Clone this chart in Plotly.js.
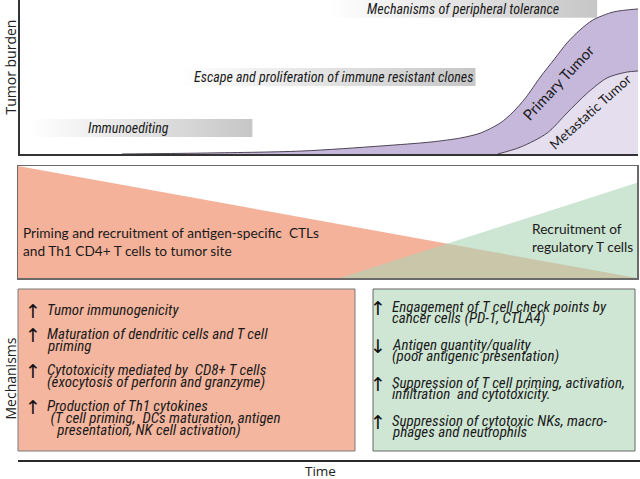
<!DOCTYPE html>
<html>
<head>
<meta charset="utf-8">
<script src="https://cdn.plot.ly/plotly-3.0.1.min.js"></script>
<style>html,body{margin:0;padding:0;background:#fff;}#chart{width:640px;height:479px;}</style>
</head>
<body>
<div id="chart"></div>
<script>
// ---------- data ----------
const primaryTime   = [16.5, 29.4, 45.5, 58.4, 66.5, 71.3, 74.5, 77.7, 79.8, 81.8, 84.2, 86.6, 88.5, 90.6, 92.7, 96, 100];
const primaryBurden = [0, 0.6, 1.9, 5.2, 7.8, 10.4, 13.6, 20.1, 27.3, 36.4, 50, 62.3, 72.1, 80.5, 87, 92.2, 94.2];
const metaTime      = [77.3, 81, 85.3, 88.5, 91.8, 95, 98.2, 100];
const metaBurden    = [0, 4.5, 13.6, 26.6, 39.6, 49.4, 53.2, 53.9];

const phaseLabels = ['Immunoediting', 'Escape and proliferation of immune resistant clones', 'Mechanisms of peripheral tolerance'];
const phaseStart  = [1.6, 25.8, 50.0];
const phaseEnd    = [37.6, 73.7, 93.4];
const phaseLevel  = [16.9, 50.0, 94.3];

const effectorTime  = [0, 100];
const effectorLevel = [1, 0];
const tregTime      = [52, 100];
const tregLevel     = [0, 0.85];
const effectorText  = 'Priming and recruitment of antigen-specific  CTLs<br>and Th1 CD4+ T cells to tumor site';
const tregText      = 'Recruitment of<br>regulatory T cells';

const leftArrows = ['↑', '↑', '↑', '↑'];
const leftLines  = [
  ['Tumor immunogenicity'],
  ['Maturation of dendritic cells and T cell', 'priming'],
  ['Cytotoxicity mediated by  CD8+ T cells', '(exocytosis of perforin and granzyme)'],
  ['Production of Th1 cytokines', '\u00A0(T cell priming,  DCs maturation, antigen', '\u00A0\u00A0\u00A0presentation, NK cell activation)']
];
const rightArrows = ['↑', '↓', '↑', '↑'];
const rightLines  = [
  ['Engagement of T cell check points by', 'cancer cells (PD-1, CTLA4)'],
  ['Antigen quantity/quality', '(poor antigenic presentation)'],
  ['Suppression of T cell priming, activation,', 'infiltration  and cytotoxicity.'],
  ['Suppression of cytotoxic NKs, macro-', 'phages and neutrophils']
];

// ---------- layout helpers ----------
const W = 640, H = 479;
const FONT = 'Liberation Sans Narrow, Roboto Condensed, Roboto, sans-serif';
const FONT2 = 'Lato, Open Sans, sans-serif';
const px = v => v / W;
const py = v => 1 - v / H;

function ann(text, x, y, o) {
  o = o || {};
  return {
    xref: 'paper', yref: 'paper', x: px(x), y: py(y), text: text, showarrow: false,
    xanchor: o.xanchor || 'left', yanchor: 'middle', textangle: o.angle || 0, align: o.align || 'left',
    font: {family: o.family || FONT, size: o.size || 14, color: o.color || '#1a1a1a'},
    borderpad: 0
  };
}

const traces = [];
const annotations = [];

// gradient phase bars
const barHalf = 5.9;
const labelShift = [-2, 1, 0];
phaseLabels.forEach((lab, i) => {
  const y0 = phaseLevel[i] - barHalf, y1 = phaseLevel[i] + barHalf;
  traces.push({
    type: 'scatter', mode: 'lines', xaxis: 'x', yaxis: 'y',
    x: [phaseStart[i], phaseEnd[i], phaseEnd[i], phaseStart[i], phaseStart[i]],
    y: [y0, y0, y1, y1, y0],
    fill: 'toself', line: {width: 0},
    fillgradient: {type: 'horizontal', colorscale: [[0, 'rgba(255,255,255,1)'], [1, 'rgb(198,198,198)']]},
    hoverinfo: 'skip', showlegend: false
  });
  annotations.push({
    xref: 'x', yref: 'y', x: (phaseStart[i] + phaseEnd[i]) / 2 + labelShift[i], y: phaseLevel[i],
    text: '<i>' + lab + '</i>', showarrow: false, xanchor: 'center', yanchor: 'middle',
    font: {family: FONT, size: 14, color: '#1a1a1a'}
  });
});

// tumor curves
traces.push({
  type: 'scatter', mode: 'lines', xaxis: 'x', yaxis: 'y',
  x: primaryTime, y: primaryBurden, fill: 'tozeroy', fillcolor: 'rgb(198,184,218)',
  line: {color: '#4d4456', width: 1, shape: 'spline', smoothing: 0.8}, hoverinfo: 'skip', showlegend: false
});
traces.push({
  type: 'scatter', mode: 'lines', xaxis: 'x', yaxis: 'y',
  x: metaTime, y: metaBurden, fill: 'tozeroy', fillcolor: 'rgb(229,222,238)',
  line: {color: '#4d4456', width: 1, shape: 'spline', smoothing: 0.8}, hoverinfo: 'skip', showlegend: false
});
annotations.push({xref: 'x', yref: 'y', x: 87.1, y: 46.8, text: 'Primary Tumor', showarrow: false, textangle: -47,
  font: {family: FONT2, size: 15, color: '#1a1a1a'}});
annotations.push({xref: 'x', yref: 'y', x: 92.2, y: 27.5, text: 'Metastatic Tumor', showarrow: false, textangle: -42,
  font: {family: FONT2, size: 13.5, color: '#1a1a1a'}});

// middle panel
traces.push({
  type: 'scatter', mode: 'lines', xaxis: 'x2', yaxis: 'y2',
  x: effectorTime, y: effectorLevel, fill: 'tozeroy', fillcolor: 'rgb(245,178,154)',
  line: {width: 0}, hoverinfo: 'skip', showlegend: false
});
traces.push({
  type: 'scatter', mode: 'lines', xaxis: 'x2', yaxis: 'y2',
  x: tregTime, y: tregLevel, fill: 'tozeroy', fillcolor: 'rgba(172,212,182,0.6)',
  line: {width: 0}, hoverinfo: 'skip', showlegend: false
});
annotations.push(ann(effectorText, 22, 241.5, {size: 13.7, family: FONT2}));
annotations.push(ann(tregText, 531, 237.5, {size: 13.7, family: FONT2}));

// bottom boxes
const shapes = [
  {type: 'rect', xref: 'paper', yref: 'paper', x0: px(18), x1: px(355), y0: py(451), y1: py(289),
   fillcolor: 'rgb(245,182,159)', line: {color: '#7a7a7a', width: 1}, layer: 'below'},
  {type: 'rect', xref: 'paper', yref: 'paper', x0: px(373), x1: px(635), y0: py(451), y1: py(289),
   fillcolor: 'rgb(207,230,212)', line: {color: '#666', width: 1}, layer: 'below'},
  {type: 'line', xref: 'paper', yref: 'paper', x0: px(18), x1: px(640), y0: py(461), y1: py(461),
   line: {color: '#2a2a2a', width: 2}}
];

function listItems(arrows, lines, arrowX, textX, y0, lineGap, itemGap) {
  let y = y0;
  lines.forEach((ls, i) => {
    annotations.push(ann(arrows[i], arrowX, y + 1, {xanchor: 'center', size: 19, family: 'DejaVu Sans', color: '#111'}));
    ls.forEach((l, j) => {
      annotations.push(ann('<i>' + l + '</i>', textX, y, {size: 15}));
      if (j < ls.length - 1) y += lineGap;
    });
    y += itemGap;
  });
}
listItems(leftArrows, leftLines, 33, 46, 310, 12, 24);
listItems(rightArrows, rightLines, 378, 391, 307, 11, 27);

// axis labels
annotations.push(ann('Tumor burden', 9.5, 67, {xanchor: 'center', angle: -90, size: 14, family: 'Open Sans', color: '#222'}));
annotations.push(ann('Mechanisms', 9.5, 379, {xanchor: 'center', angle: -90, size: 14, family: 'Open Sans', color: '#222'}));
annotations.push(ann('Time', 320, 471, {xanchor: 'center', size: 13.5, family: 'Open Sans', color: '#222'}));

const hidden = {showgrid: false, zeroline: false, showticklabels: false, ticks: '', fixedrange: true};
const layout = {
  width: W, height: H, margin: {l: 0, r: 0, t: 0, b: 0},
  paper_bgcolor: '#fff', plot_bgcolor: 'rgba(0,0,0,0)', showlegend: false, hovermode: false,
  xaxis: Object.assign({}, hidden, {domain: [px(20), px(638)], range: [0, 100], showline: true, linecolor: '#333', linewidth: 2, anchor: 'y'}),
  yaxis: Object.assign({}, hidden, {domain: [py(154), 1], range: [0, 100], showline: true, linecolor: '#333', linewidth: 2, anchor: 'x'}),
  xaxis2: Object.assign({}, hidden, {domain: [px(18), px(637)], range: [0, 100], showline: true, mirror: true, linecolor: '#6a6a6a', linewidth: 1.5, anchor: 'y2'}),
  yaxis2: Object.assign({}, hidden, {domain: [py(278), py(166)], range: [0, 1], showline: true, mirror: true, linecolor: '#6a6a6a', linewidth: 1.5, anchor: 'x2'}),
  shapes: shapes,
  annotations: annotations
};
Plotly.newPlot('chart', traces, layout, {staticPlot: true, displayModeBar: false});
</script>
</body>
</html>
